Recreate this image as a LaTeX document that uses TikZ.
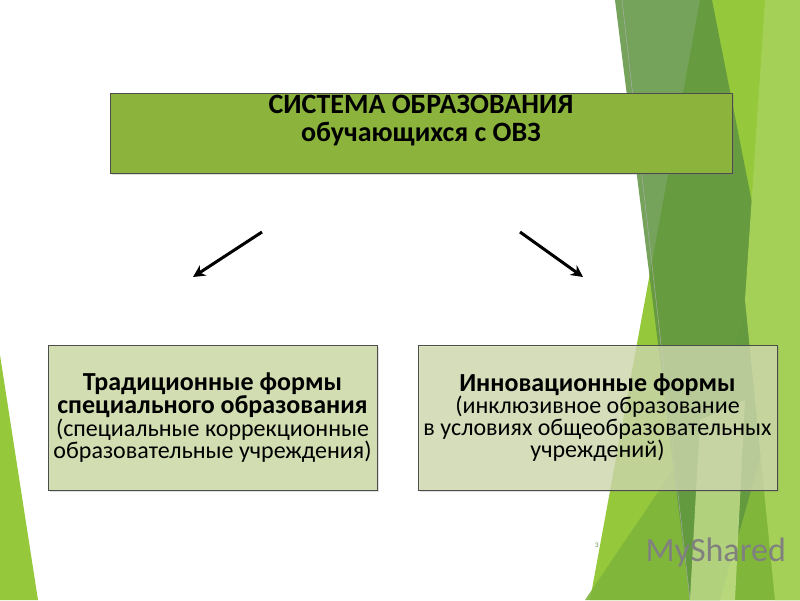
\documentclass[tikz,border=0pt]{standalone}
\usepackage{fontspec}
\setmainfont{Carlito}
\usetikzlibrary{arrows.meta,shadows}
\definecolor{gTop}{HTML}{8CB43C}
\definecolor{gBox}{HTML}{D2DDB0}
\definecolor{gLight}{HTML}{95C83A}
\definecolor{gDark}{HTML}{5E9440}
\definecolor{gMid}{HTML}{7EB53B}
\definecolor{gPale}{HTML}{C6E08C}
\tikzset{
 box/.style={draw=black!70, line width=0.8pt, align=center, inner sep=4pt, drop shadow={opacity=0.25, shadow xshift=2pt, shadow yshift=-2pt}},
 arr/.style={line width=3pt, -{Stealth[length=12pt,width=12pt]}}
}
\begin{document}
\begin{tikzpicture}[x=1pt,y=-1pt]
\useasboundingbox (0,0) rectangle (800,600);
\fill[white] (0,0) rectangle (800,600);
% decorative shapes
\fill[gLight] (700,0) -- (800,0) -- (800,600) -- (590,600) -- cycle;
\fill[gMid, opacity=0.9] (800,180) -- (800,600) -- (585,600) -- (700,430) -- cycle;
\fill[gDark, opacity=0.85] (615,0) -- (712,0) -- (785,370) -- (720,600) -- (690,600) -- cycle;
\fill[gPale, opacity=0.8] (700,420) -- (745,400) -- (735,600) -- (690,600) -- cycle;
\fill[gLight!85!white] (765,0) -- (800,0) -- (800,600) -- (775,600) -- (745,300) -- cycle;
\draw[black!30, line width=0.4pt] (622,0) -- (690,600);
\fill[gLight] (0,355) -- (38,600) -- (0,600) -- cycle;
% boxes
\node[box, fill=gTop, minimum width=622pt, minimum height=80pt] (top) at (421,133) {};
\node[align=center, font=\bfseries\fontsize{28}{28}\selectfont] (toptext) at (421,121) {СИСТЕМА ОБРАЗОВАНИЯ\\обучающихся с ОВЗ};
\node[box, fill=gBox, minimum width=329pt, minimum height=145pt, fill opacity=0.95, text opacity=1] (left) at (212.5,417.5)
 {{\bfseries\fontsize{26}{28}\selectfont Традиционные формы}\\{\bfseries\fontsize{26}{28}\selectfont специального образования}\\{\fontsize{24}{26}\selectfont (специальные коррекционные}\\{\fontsize{24}{26}\selectfont образовательные учреждения)}};
\node[box, fill=gBox, minimum width=359pt, minimum height=145pt, fill opacity=0.75, text opacity=1] (right) at (597.5,417.5)
 {{\bfseries\fontsize{26}{28}\selectfont Инновационные формы}\\{\fontsize{24}{26}\selectfont (инклюзивное образование}\\{\fontsize{24}{26}\selectfont в условиях общеобразовательных}\\{\fontsize{24}{26}\selectfont учреждений)}};
% arrows
\coordinate (a1s) at (262,232); \coordinate (a1e) at (193,277);
\coordinate (a2s) at (520,232); \coordinate (a2e) at (583,277);
\draw[arr] (a1s) -- (a1e);
\draw[arr] (a2s) -- (a2e);
% page number and watermark
\node[font=\fontsize{7}{8}\selectfont, text=gDark] (pg) at (597,545) {3};
\node[font=\fontsize{34}{36}\selectfont, text=black!50, anchor=west] (wm) at (642,552) {MyShared};
\end{tikzpicture}
\end{document}
